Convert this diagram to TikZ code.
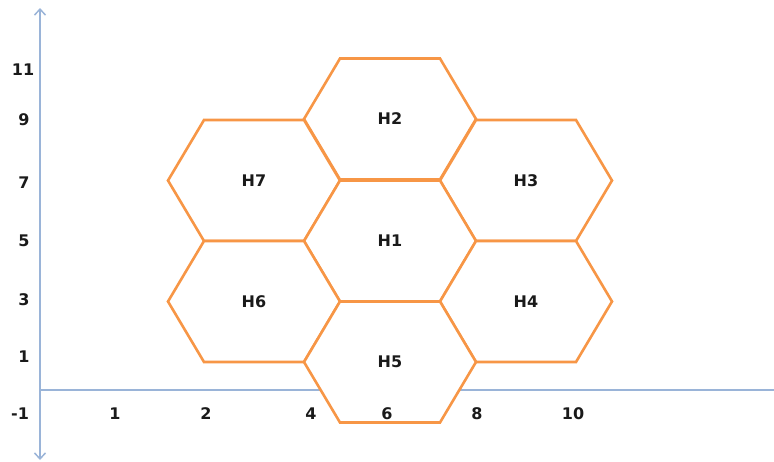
\documentclass[tikz,border=0pt]{standalone}
\usepackage{fontspec}
\setmainfont{DejaVu Sans}
\usetikzlibrary{arrows.meta}
\definecolor{axisblue}{HTML}{9AB4D8}
\definecolor{hexorange}{HTML}{F79646}
\definecolor{txt}{HTML}{1A1A1A}
\begin{document}
\begin{tikzpicture}[x=1pt,y=-1pt,
  axis/.style={draw=axisblue,line width=2.2pt},
  axtip/.style={-{Straight Barb[length=6pt,width=11pt,line width=1.5pt]}},
  hexcell/.style={draw=hexorange,line width=2.6pt,fill=white,line join=miter},
  lbl/.style={font=\bfseries\fontsize{16}{18}\selectfont,text=txt,inner sep=0pt}]
\useasboundingbox (0,0) rectangle (774,461);
% axes
\coordinate (O) at (40,390);
\coordinate (ytop) at (40,8);
\coordinate (ybot) at (40,460);
\coordinate (xend) at (774,390);
\draw[axis,axtip] (O) -- (ytop);
\draw[axis,axtip] (O) -- (ybot);
\draw[axis] (O) -- (xend);
% hexagonal cells
\foreach \n/\cx/\cy in {H2/390/119, H7/254/180.5, H3/526/180.5, H1/390/241, H6/254/301.5, H4/526/301.5, H5/390/362}{
  \begin{scope}[shift={(\cx,\cy)}]
    \draw[hexcell] (-86,0) -- (-50,-60.5) -- (50,-60.5) -- (86,0) -- (50,60.5) -- (-50,60.5) -- cycle;
    \node[lbl] (\n) at (0,0) {\n};
  \end{scope}
}
% y labels
\node[lbl] (y11) at (23,70) {11};
\node[lbl] (y9) at (24,120) {9};
\node[lbl] (y7) at (24,183) {7};
\node[lbl] (y5) at (24,241) {5};
\node[lbl] (y3) at (24,300) {3};
\node[lbl] (y1) at (24,357) {1};
\node[lbl] (ym1) at (20,414) {-1};
% x labels
\node[lbl] (x1) at (115,414) {1};
\node[lbl] (x2) at (206,414) {2};
\node[lbl] (x4) at (311,414) {4};
\node[lbl] (x6) at (387,414) {6};
\node[lbl] (x8) at (477,414) {8};
\node[lbl] (x10) at (573,414) {10};
\end{tikzpicture}
\end{document}
